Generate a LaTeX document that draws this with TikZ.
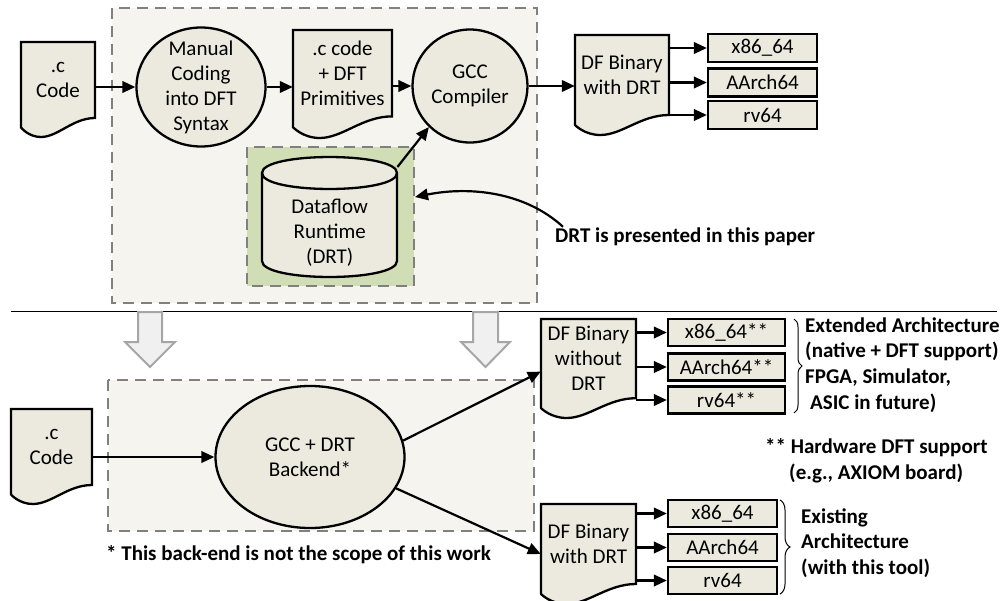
\documentclass[tikz,border=0pt]{standalone}
\usepackage{fontspec}
\setmainfont{Carlito}
\usetikzlibrary{arrows.meta,shapes.geometric,calc,decorations.pathreplacing}

\definecolor{panelfill}{HTML}{F5F4EF}
\definecolor{shapefill}{HTML}{ECEADF}
\definecolor{greenfill}{HTML}{D1DDB4}
\definecolor{dashgray}{HTML}{808080}
\definecolor{blockfill}{HTML}{F0F0F0}
\definecolor{blockline}{HTML}{A6A6A6}

\tikzset{
  txt/.style={font=\fontsize{21}{25}\selectfont, align=center},
  boldtxt/.style={font=\fontsize{21}{25.7}\selectfont\bfseries, align=left, inner sep=0pt},
  shapeline/.style={draw=black, line width=2.3pt},
  panel/.style={draw=dashgray, line width=2pt, dash pattern=on 11pt off 7pt, fill=panelfill},
  greenpanel/.style={panel, fill=greenfill},
  ovalnode/.style={ellipse, shapeline, fill=shapefill, txt, inner xsep=0pt, inner ysep=-12pt},
  tgtbox/.style={rectangle, shapeline, fill=shapefill, txt, inner sep=0pt, minimum height=27pt},
  plaintext/.style={txt, inner sep=0pt},
  flowarrow/.style={line width=2.2pt, -{Triangle[length=13pt,width=11.5pt]}},
  bracemark/.style={decorate, decoration={brace, amplitude=#1}, line width=1pt},
  blockarr/.style={draw=blockline, fill=blockfill, line width=2pt},
}

% Document shape with a wavy bottom edge; the named node covers the straight part.
% #1 name, #2 left x, #3 top y, #4 width, #5 depth to the wave trough, #6 text
\newcommand\docnode[6]{%
  \pgfmathsetmacro\docrx{#2+#4}%
  \pgfmathsetmacro\docry{#3+0.8*#5}%
  \pgfmathsetmacro\doctr{#3+#5}%
  \pgfmathsetmacro\docly{#3+0.9*#5}%
  \pgfmathsetmacro\docca{#2+0.7*#4}%
  \pgfmathsetmacro\doccb{#2+0.5*#4}%
  \pgfmathsetmacro\doctx{#2+0.27*#4}%
  \pgfmathsetmacro\doccc{#2+0.1*#4}%
  \pgfmathsetmacro\doccx{#2+0.5*#4}%
  \pgfmathsetmacro\doccy{#3+0.4*#5}%
  \pgfmathsetmacro\doch{0.8*#5}%
  \draw[shapeline, fill=shapefill] (#2,#3) -- (\docrx,#3) -- (\docrx,\docry)
    .. controls (\docca,\docry) and (\doccb,\doctr) .. (\doctx,\doctr)
    .. controls (\doccc,\doctr) and (#2,\docly) .. (#2,\docly) -- cycle;
  \node[plaintext, minimum width=#4pt, minimum height=\doch pt] (#1) at (\doccx,\doccy) {#6};
}

\begin{document}
\begin{tikzpicture}[x=1pt,y=-1pt]
\useasboundingbox (0,0) rectangle (1006,600);

% ---------- upper part: current flow ----------
\draw[panel] (112,8) rectangle (537,303);
\draw[greenpanel] (247,147) rectangle (414,286);

\docnode{code1}{21}{42}{74}{95}{.c\\Code}
\node[ovalnode, minimum width=129pt, minimum height=119pt] (manual) at (201,87) {Manual\\Coding\\into DFT\\Syntax};
\docnode{prim}{293}{30}{99}{108}{.c code\\+ DFT\\Primitives}
\node[ovalnode, minimum width=115pt, minimum height=113pt] (gcc) at (470,86) {GCC\\Compiler};
\docnode{dfb1}{575}{35}{94}{100}{DF Binary\\with DRT}

% dataflow runtime cylinder
\draw[shapeline, fill=shapefill] (262,173) -- (262,261)
  .. controls (262,282.3) and (397,282.3) .. (397,261) -- (397,173)
  .. controls (397,151.7) and (262,151.7) .. cycle;
\draw[shapeline] (262,173) .. controls (262,194.3) and (397,194.3) .. (397,173);
\node[plaintext, minimum width=135pt, minimum height=88pt, anchor=north west] (drt) at (262,189) {Dataflow\\Runtime\\(DRT)};

\node[tgtbox, minimum width=109pt, minimum height=28pt] (xt) at (762.5,48) {x86\_64};
\node[tgtbox, minimum width=109pt, minimum height=28pt] (arch1) at (762.5,82.5) {AArch64};
\node[tgtbox, minimum width=109pt, minimum height=28pt] (rt) at (762.5,115) {rv64};

\draw[flowarrow] (code1.east |- manual.west) -- (manual.west);
\draw[flowarrow] (manual.east) -- (manual.east -| prim.west);
\draw[flowarrow] (prim.east |- gcc.west) -- (gcc.west);
\draw[flowarrow] (gcc.east) -- (gcc.east -| dfb1.west);
\draw[flowarrow] ($(drt.north east)+(0,-22)$) -- (gcc.225);
\draw[flowarrow] (dfb1.east |- xt.west) -- (xt.west);
\draw[flowarrow] (dfb1.east |- arch1.west) -- (arch1.west);
\draw[flowarrow] (dfb1.east |- rt.west) -- (rt.west);

\node[boldtxt, anchor=west] (note) at (555,237) {DRT is presented in this paper};
\coordinate (drtin) at (415,197);
\draw[flowarrow] ($(note.north west)+(8,-1)$) .. controls (525,192) and (470,186) .. (drtin);

% separator
\draw[line width=1pt] (11,311) -- (997,311);

% hollow down arrows
\draw[blockarr] (138,312) -- (162,312) -- (162,342) -- (175,342) -- (150,367) -- (125,342) -- (138,342) -- cycle;
\draw[blockarr] (473,312) -- (498,312) -- (498,342) -- (510,342) -- (485.5,367) -- (461,342) -- (473,342) -- cycle;

% ---------- lower part: proposed flow ----------
\draw[panel] (108,380) rectangle (534,531);

\docnode{code2}{11}{409}{81}{95}{.c\\Code}
\node[ovalnode, minimum width=189pt, minimum height=142pt] (backend) at (310,457) {GCC + DRT\\Backend*};
\docnode{dfb2}{541}{319}{95}{99}{DF Binary\\without\\DRT}
\docnode{dfb3}{541}{504}{95}{100}{DF Binary\\with DRT}

\node[tgtbox, minimum width=117pt] (xe) at (726.5,332.5) {x86\_64**};
\node[tgtbox, minimum width=117pt] (ae) at (726.5,367) {AArch64**};
\node[tgtbox, minimum width=117pt] (re) at (726.5,400) {rv64**};

\node[tgtbox, minimum width=109pt] (xb) at (722.5,513.5) {x86\_64};
\node[tgtbox, minimum width=109pt] (ab) at (722.5,547.5) {AArch64};
\node[tgtbox, minimum width=109pt] (rb) at (722.5,580.5) {rv64};

\draw[flowarrow] (code2.east |- backend.west) -- (backend.west);
\draw[flowarrow] (backend.10) -- ($(dfb2.west)+(0,13)$);
\draw[flowarrow] (backend.-20) -- ($(dfb3.west)+(0,10)$);

\draw[flowarrow] (dfb2.east |- xe.west) -- (xe.west);
\draw[flowarrow] (dfb2.east |- ae.west) -- (ae.west);
\draw[flowarrow] (dfb2.east |- re.west) -- (re.west);
\draw[flowarrow] (dfb3.east |- xb.west) -- (xb.west);
\draw[flowarrow] (dfb3.east |- ab.west) -- (ab.west);
\draw[flowarrow] (dfb3.east |- rb.west) -- (rb.west);

\draw[bracemark=8pt] (794,319) -- (794,413);
\draw[bracemark=10pt] (780,500) -- (780,594);

\node[boldtxt, anchor=west] (ext) at (805,365) {Extended Architecture\\(native + DFT support)\\FPGA, Simulator,\\\hspace*{5pt}ASIC in future)};
\node[boldtxt, anchor=west] (hw) at (765,461) {** Hardware DFT support\\\hspace*{24pt}(e.g., AXIOM board)};
\node[boldtxt, anchor=west] (exist) at (801,543) {Existing\\Architecture\\(with this tool)};
\node[boldtxt, anchor=west] (foot) at (106,555) {* This back-end is not the scope of this work};

\end{tikzpicture}
\end{document}
